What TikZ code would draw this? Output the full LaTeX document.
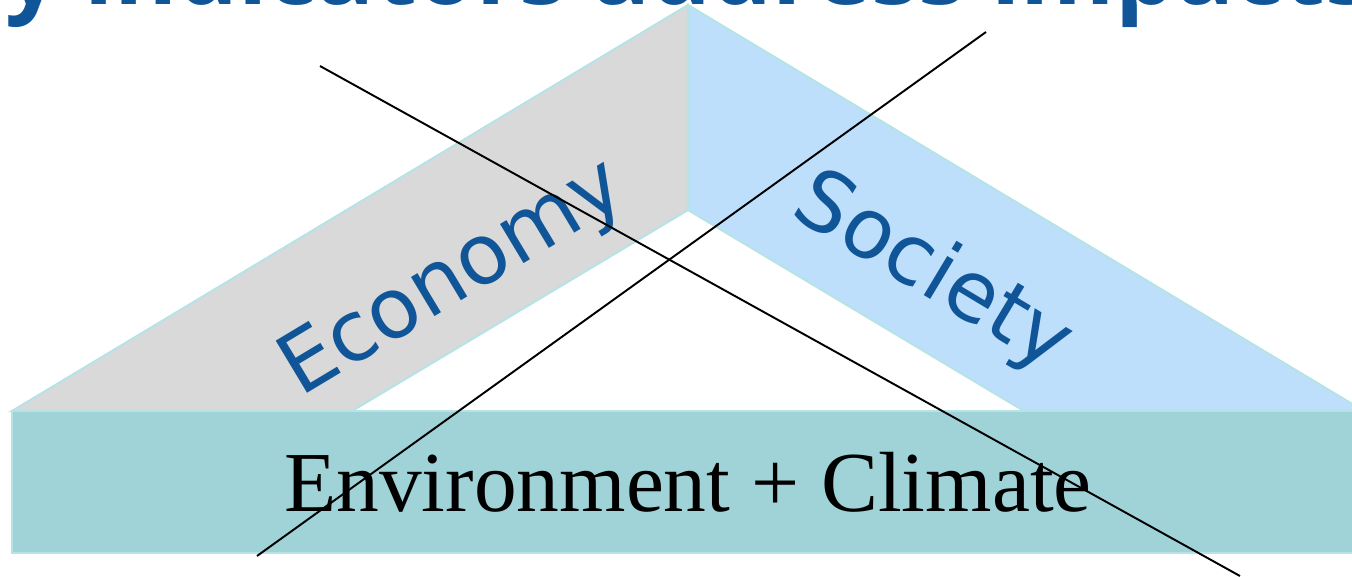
\documentclass[tikz,border=0pt]{standalone}
\usepackage{fontspec}
\setmainfont{Liberation Serif}
\newfontfamily\titlefont{Open Sans}
\newfontfamily\bandfont{DejaVu Sans}
\definecolor{econgray}{HTML}{D9D9D9}
\definecolor{socblue}{HTML}{BDDFFC}
\definecolor{envteal}{HTML}{9FD3D7}
\definecolor{rimcyan}{HTML}{B7E3E6}
\definecolor{inkblue}{HTML}{0F5597}
\tikzset{
  rim/.style={draw=rimcyan, line width=1.2pt, line join=miter},
  envbox/.style={rectangle, draw=rimcyan, line width=1.2pt, fill=envteal,
    minimum width=27.04cm, minimum height=2.84cm,
    font=\fontsize{48.6}{58}\selectfont},
  bandlabel/.style={text=inkblue, font=\bandfont\fontsize{47.5}{56}\selectfont},
  titletext/.style={text=inkblue, font=\titlefont\bfseries\fontsize{54.7}{64}\selectfont},
  cross/.style={draw=black, line width=1.1pt}
}
\begin{document}
\begin{tikzpicture}[scale=0.2]
\tikzstyle{every node}+=[inner sep=0pt]
\useasboundingbox (0,0) rectangle (135.2,-57.6);
% roof
\coordinate (apex) at (68.8,-0.5);
\coordinate (notch) at (68.8,-21);
\draw [rim, fill=econgray] (apex) -- (1.2,-41.1) -- (35.2,-41.1) -- (notch) -- cycle;
\draw [rim, fill=socblue] (apex) -- (136.4,-41.1) -- (102.4,-41.1) -- (notch) -- cycle;
% base
\node [envbox] (env) at (68.8,-48.2) {\raisebox{-0.4ex}{Environment + Climate}};
\node [bandlabel, rotate=31, anchor=base] (economy) at (46.5,-29.9) {Economy};
\node [bandlabel, rotate=-31, anchor=base] (society) at (92.0,-29.3) {Society};
\node [titletext, anchor=base west] (title) at (0.5,-0.4) {y indicators address impacts};
% crossing out
\coordinate (crossA1) at (32,-6.6);
\coordinate (crossA2) at (124,-57.6);
\coordinate (crossB1) at (98.6,-3.2);
\coordinate (crossB2) at (25.7,-55.6);
\draw [cross] (crossA1) -- (crossA2);
\draw [cross] (crossB1) -- (crossB2);
\end{tikzpicture}
\end{document}
